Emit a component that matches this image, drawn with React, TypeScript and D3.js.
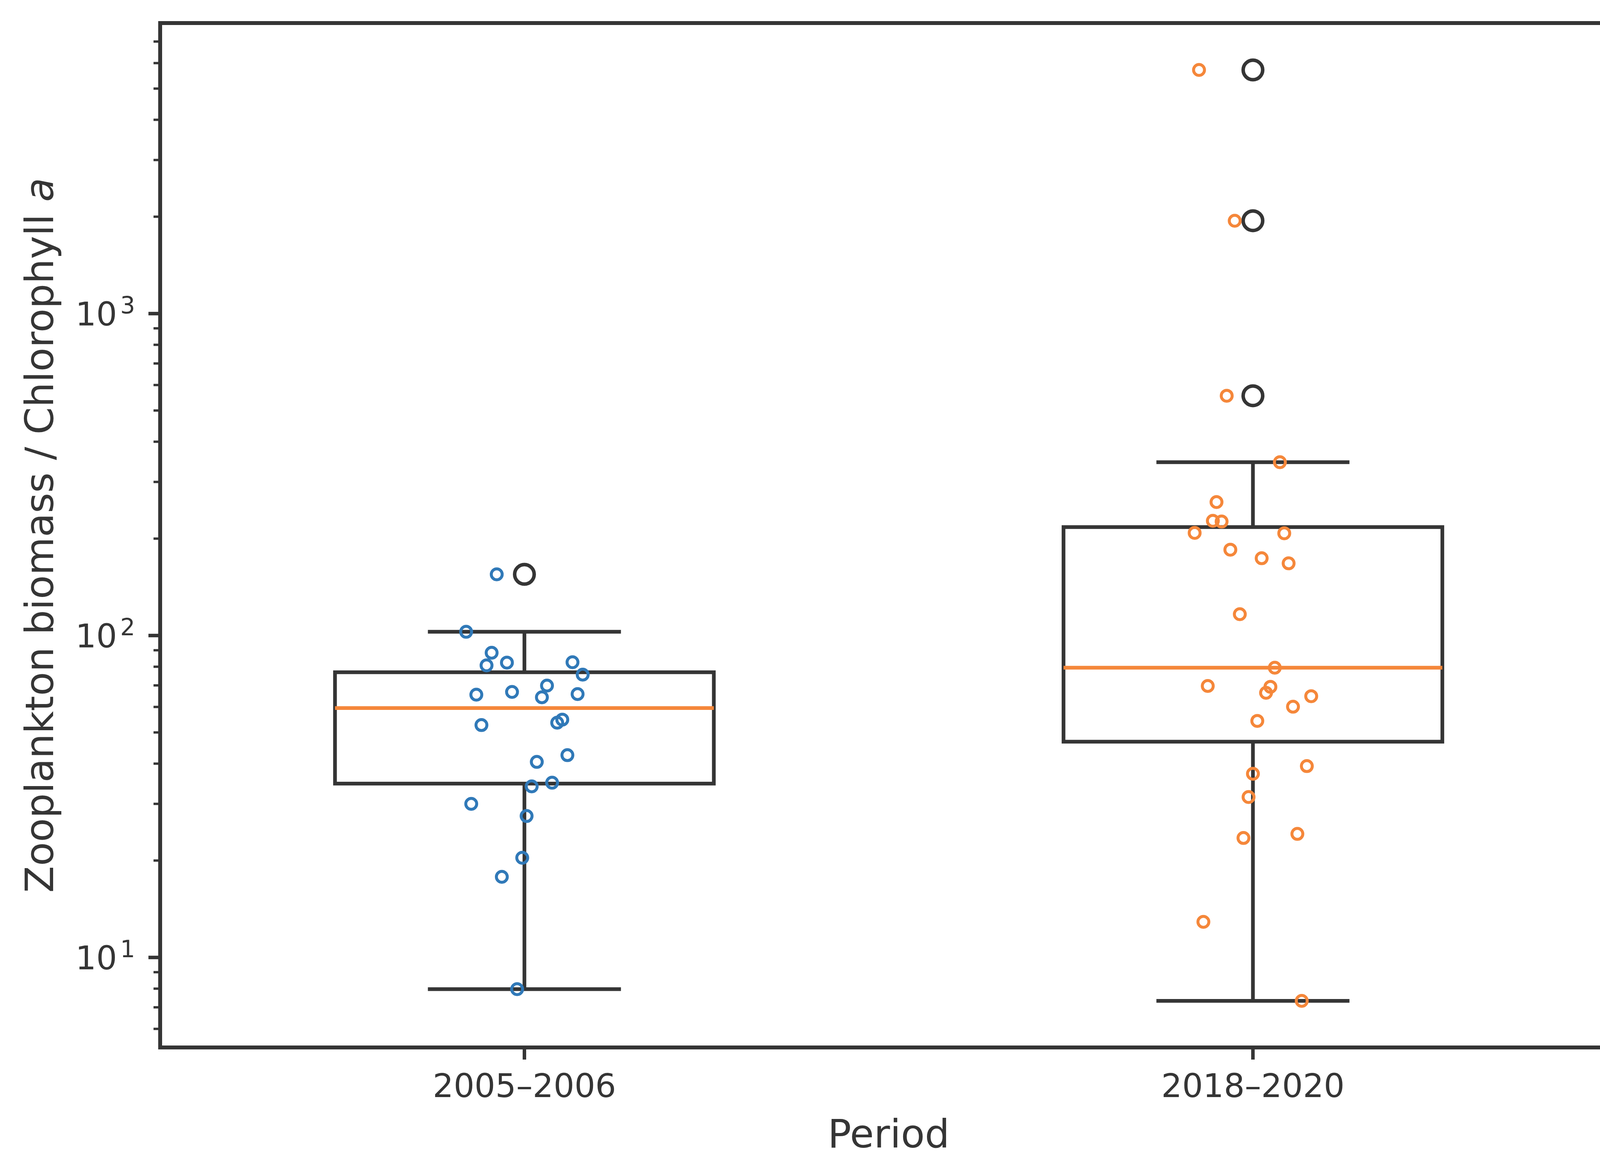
import * as React from 'react';
import * as d3 from 'd3';

// categories and the values
const categories = ['2005–2006', '2018–2020'];

const ratio2005 = [
    154.9, 102.7, 88.4, 80.8, 82.4, 82.6, 75.6, 69.9, 64.3, 66.8, 65.5, 65.8,
    52.7, 53.6, 54.8, 40.5, 42.5, 34.0, 34.9, 30.0, 27.5, 20.4, 17.8, 7.97,
];
// horizontal jitter, in category units
const jitter2005 = [
    -0.038, -0.080, -0.045, -0.052, -0.024, 0.066, 0.080, 0.031, 0.024, -0.017, -0.066, 0.073,
    -0.059, 0.045, 0.052, 0.017, 0.059, 0.010, 0.038, -0.073, 0.003, -0.003, -0.031, -0.010,
];

const ratio2018 = [
    5713, 1943, 555.7, 345.5, 259.8, 227.2, 226.0, 208.4, 207.8, 184.8, 173.8, 167.6,
    116.5, 79.45, 69.7, 69.3, 66.4, 64.8, 60.1, 54.3, 39.3, 37.2, 31.5, 23.5,
    24.2, 12.9, 7.33,
];
const jitter2018 = [
    -0.074, -0.025, -0.036, 0.037, -0.050, -0.055, -0.043, -0.080, 0.043, -0.031, 0.012, 0.049,
    -0.018, 0.030, -0.062, 0.024, 0.018, 0.080, 0.055, 0.006, 0.074, 0.000, -0.006, -0.013,
    0.061, -0.068, 0.067,
];

const series = [
    { values: ratio2005, jitter: jitter2005, color: '#3079b8' },
    { values: ratio2018, jitter: jitter2018, color: '#f5873a' },
];

const yDomain = [5.253, 7990];
const yMajor = [10, 100, 1000];
const yMajorExp = ['1', '2', '3'];

const ink = '#353535';
const font = 'DejaVu Sans, sans-serif';

const W = 4200;
const H = 3010;
const left = 410;
const right = 4140;
const top = 59;
const bottom = 2681;

const boxWidth = 0.52;
const capWidth = 0.265;

function stats(values: number[]) {
    const s = values.slice().sort(d3.ascending);
    const q1 = d3.quantile(s, 0.25) as number;
    const med = d3.quantile(s, 0.5) as number;
    const q3 = d3.quantile(s, 0.75) as number;
    const iqr = q3 - q1;
    const hiFence = q3 + 1.5 * iqr;
    const loFence = q1 - 1.5 * iqr;
    const inside = s.filter(v => v >= loFence && v <= hiFence);
    const lo = d3.min(inside) as number;
    const hi = d3.max(inside) as number;
    const fliers = s.filter(v => v < loFence || v > hiFence);
    return { q1, med, q3, lo, hi, fliers };
}

const App: React.FunctionComponent = () => {
    const x = d3.scaleLinear().domain([-0.5, 1.5]).range([left, right]);
    const y = d3.scaleLog().domain(yDomain).range([bottom, top]);
    const unit = x(1) - x(0);

    const minor = y.ticks().filter(t => !yMajor.includes(t) && t >= yDomain[0] && t <= yDomain[1]);

    return (
        <div style={{ position: 'absolute', left: 0, top: 0 }}>
            <svg width={W} height={H} style={{ display: 'block', background: '#fff' }}>
                <rect x={0} y={0} width={W} height={H} fill="#fff" />

                {/* boxes */}
                {series.map((s, i) => {
                    const st = stats(s.values);
                    const cx = x(i);
                    const bw = boxWidth * unit;
                    const cw = capWidth * unit;
                    return (
                        <g key={'box' + i} stroke={ink} strokeWidth={9.5} fill="none">
                            <rect x={cx - bw / 2} y={y(st.q3)} width={bw} height={y(st.q1) - y(st.q3)} />
                            <line x1={cx} x2={cx} y1={y(st.q3)} y2={y(st.hi)} />
                            <line x1={cx} x2={cx} y1={y(st.q1)} y2={y(st.lo)} />
                            <line x1={cx - cw / 2} x2={cx + cw / 2} y1={y(st.hi)} y2={y(st.hi)} />
                            <line x1={cx - cw / 2} x2={cx + cw / 2} y1={y(st.lo)} y2={y(st.lo)} />
                            <line x1={cx - bw / 2} x2={cx + bw / 2} y1={y(st.med)} y2={y(st.med)}
                                stroke="#f5873a" />
                            {st.fliers.map((f, j) => (
                                <circle key={j} cx={cx} cy={y(f)} r={25} strokeWidth={9} />
                            ))}
                        </g>
                    );
                })}

                {/* jittered points */}
                {series.map((s, i) => (
                    <g key={'pts' + i} stroke={s.color} strokeWidth={7.5} fill="none">
                        {s.values.map((v, j) => (
                            <circle key={j} cx={x(i + s.jitter[j])} cy={y(v)} r={14} />
                        ))}
                    </g>
                ))}

                {/* y ticks */}
                <g stroke={ink}>
                    {minor.map(t => (
                        <line key={t} x1={left - 17} x2={left} y1={y(t)} y2={y(t)} strokeWidth={6} />
                    ))}
                    {yMajor.map(t => (
                        <line key={t} x1={left - 30} x2={left} y1={y(t)} y2={y(t)} strokeWidth={9} />
                    ))}
                </g>
                <g fill={ink} fontFamily={font} fontSize={84} textAnchor="end">
                    {yMajor.map((t, i) => (
                        <text key={t} x={346} y={y(t) + 30}>
                            10<tspan fontSize={60} dx={8} dy={-31}>{yMajorExp[i]}</tspan>
                        </text>
                    ))}
                </g>

                {/* x ticks */}
                <g stroke={ink} strokeWidth={9}>
                    {categories.map((c, i) => (
                        <line key={c} x1={x(i)} x2={x(i)} y1={bottom} y2={bottom + 31} />
                    ))}
                </g>
                <g fill={ink} fontFamily={font} fontSize={84} textAnchor="middle">
                    {categories.map((c, i) => (
                        <text key={c} x={x(i)} y={2808}>{c}</text>
                    ))}
                </g>

                {/* frame */}
                <rect x={left} y={top} width={right - left} height={bottom - top}
                    fill="none" stroke={ink} strokeWidth={10} />

                {/* axis labels */}
                <text x={(left + right) / 2} y={2937} fill={ink} fontFamily={font} fontSize={100}
                    textAnchor="middle">Period</text>
                <text transform={`translate(136,${(top + bottom) / 2}) rotate(-90)`} fill={ink}
                    fontFamily={font} fontSize={100} textAnchor="middle">
                    Zooplankton biomass / Chlorophyll <tspan fontStyle="italic">a</tspan>
                </text>
            </svg>
        </div>
    );
};

export default App;
